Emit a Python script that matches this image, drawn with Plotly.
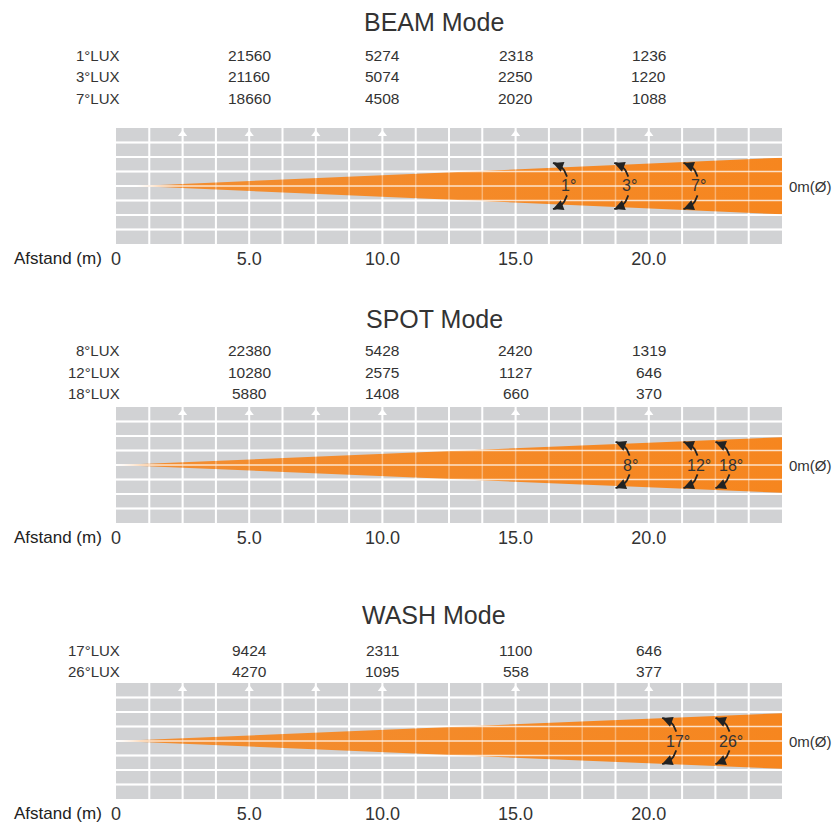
import numpy as np
import plotly.graph_objects as go

# ---------------- data ----------------
panel_titles = ["BEAM Mode", "SPOT Mode", "WASH Mode"]
distances = [5, 10, 15, 20]
tick_vals = [0, 5, 10, 15, 20]
tick_text = ["0", "5.0", "10.0", "15.0", "20.0"]

lux_labels = [
    ["1°LUX", "3°LUX", "7°LUX"],
    ["8°LUX", "12°LUX", "18°LUX"],
    ["17°LUX", "26°LUX"],
]
beam_lux = [[21560, 5274, 2318, 1236], [21160, 5074, 2250, 1220], [18660, 4508, 2020, 1088]]
spot_lux = [[22380, 5428, 2420, 1319], [10280, 2575, 1127, 646], [5880, 1408, 660, 370]]
wash_lux = [[9424, 2311, 1100, 646], [4270, 1095, 558, 377]]
lux_values = [beam_lux, spot_lux, wash_lux]

angle_labels = [["1°", "3°", "7°"], ["8°", "12°", "18°"], ["17°", "26°"]]
angle_x = [[16.4, 18.7, 21.3], [18.75, 21.3, 22.5], [20.5, 22.5]]

beam_start = [0.75, 0.0, 0.0]
beam_half_end = [1.95, 1.92, 1.92]

x_max = 25.0
grid_step_x = 1.25
n_rows = 8
arrow_marks = [2.5, 5, 7.5, 10, 15, 20]

# ---------------- layout constants (reference pixels) ----------------
W, H = 840, 823
title_y = [22, 319, 615]
lux_row_y = [[55, 77, 98], [350, 372, 394], [650, 671]]
gray_top = [128, 407, 683]
gray_bot = [244, 523, 799]
x_left_px, x_right_px = 116, 782

GRAY = "#d1d2d4"
ORANGE = "#f6861f"
TXT = "#333333"
FONT = "Liberation Sans, Arial, sans-serif"


def px(v):
    return v / W


def py(v):
    return 1 - v / H


fig = go.Figure()
annotations = []
layout_axes = {}

vx = np.arange(grid_step_x, x_max, grid_step_x)
hy = np.arange(1, n_rows)
center = n_rows / 2


def vgrid():
    gx, gy = [], []
    for v in vx:
        gx += [v, v, None]
        gy += [0, n_rows, None]
    return gx, gy


def hgrid():
    gx, gy = [], []
    for h in hy:
        gx += [0, x_max, None]
        gy += [h, h, None]
    return gx, gy


for i in range(3):
    sfx = "" if i == 0 else str(i + 1)
    xa, ya = "x" + sfx, "y" + sfx
    layout_axes["xaxis" + sfx] = dict(
        domain=[px(x_left_px), px(x_right_px)], range=[0, x_max], anchor=ya,
        showgrid=False, zeroline=False, showline=False, fixedrange=True, automargin=False,
        tickvals=tick_vals, ticktext=tick_text, ticks="", ticklabelstandoff=2,
        tickfont=dict(size=18, color=TXT, family=FONT),
    )
    layout_axes["yaxis" + sfx] = dict(
        domain=[py(gray_bot[i]), py(gray_top[i])], range=[0, n_rows], anchor=xa,
        visible=False, fixedrange=True, automargin=False,
    )

    vgx, vgy = vgrid()
    hgx, hgy = hgrid()
    for gx, gy in ((vgx, vgy), (hgx, hgy)):
        fig.add_trace(go.Scatter(x=gx, y=gy, xaxis=xa, yaxis=ya, mode="lines",
                                 line=dict(color="white", width=2), hoverinfo="skip", showlegend=False))

    # beam
    h = beam_half_end[i]
    x0 = beam_start[i]
    fig.add_trace(go.Scatter(
        x=[x0, x_max, x_max, x0], y=[center, center + h, center - h, center],
        xaxis=xa, yaxis=ya, mode="lines", fill="toself",
        fillgradient=dict(type="horizontal", colorscale=[
            [0, "rgba(246,134,31,0.25)"], [0.06, "rgba(246,134,31,0.9)"], [1, ORANGE]]),
        line=dict(width=0), hoverinfo="skip", showlegend=False))

    # grid showing through the beam
    fig.add_trace(go.Scatter(x=vgx, y=vgy, xaxis=xa, yaxis=ya, mode="lines", opacity=0.35,
                             line=dict(color="white", width=1.5), hoverinfo="skip", showlegend=False))
    fig.add_trace(go.Scatter(x=hgx, y=hgy, xaxis=xa, yaxis=ya, mode="lines", opacity=0.75,
                             line=dict(color="white", width=1.5), hoverinfo="skip", showlegend=False))

    # white arrowheads on measurement lines
    fig.add_trace(go.Scatter(x=arrow_marks, y=[n_rows - 0.42] * len(arrow_marks), xaxis=xa, yaxis=ya,
                             mode="markers", marker=dict(symbol="triangle-up", size=8, color="white"),
                             hoverinfo="skip", showlegend=False))

    # angle arcs
    a_amp = 1.58
    b_amp = 0.58
    for lbl, ax0 in zip(angle_labels[i], angle_x[i]):
        for sgn in (1, -1):
            t = np.linspace(0.42, np.pi / 2, 20) * sgn
            fig.add_trace(go.Scatter(x=ax0 + b_amp * np.cos(t), y=center + a_amp * np.sin(t),
                                     xaxis=xa, yaxis=ya, mode="lines",
                                     line=dict(color="#222222", width=1.8),
                                     hoverinfo="skip", showlegend=False))
            tt = (np.pi / 2 - 0.5) * sgn
            te = (np.pi / 2) * sgn
            annotations.append(dict(
                x=ax0 + b_amp * np.cos(te), y=center + a_amp * np.sin(te),
                ax=ax0 + b_amp * np.cos(tt), ay=center + a_amp * np.sin(tt),
                xref=xa, yref=ya, axref=xa, ayref=ya, text="", showarrow=True,
                arrowhead=2, arrowsize=1.3, arrowwidth=1.6, arrowcolor="#222222", standoff=0))
        annotations.append(dict(x=ax0 + b_amp, y=center, xref=xa, yref=ya, text=lbl, showarrow=False,
                                font=dict(size=16, color=TXT, family=FONT), xanchor="center", yanchor="middle"))

    # title
    annotations.append(dict(x=px(434), y=py(title_y[i]), xref="paper", yref="paper", text=panel_titles[i],
                            showarrow=False, font=dict(size=25, color=TXT, family=FONT),
                            xanchor="center", yanchor="middle"))
    # lux table
    for r, (lab, vals) in enumerate(zip(lux_labels[i], lux_values[i])):
        annotations.append(dict(x=px(122), y=py(lux_row_y[i][r]), xref="paper", yref="paper", text=lab,
                                showarrow=False, font=dict(size=15, color=TXT, family=FONT),
                                xanchor="right", yanchor="middle"))
        for d, v in zip(distances, vals):
            annotations.append(dict(x=d, y=py(lux_row_y[i][r]), xref=xa, yref="paper", text=str(v),
                                    showarrow=False, font=dict(size=15.5, color=TXT, family=FONT),
                                    xanchor="center", yanchor="middle"))
    # axis caption
    annotations.append(dict(x=px(12), y=py(gray_bot[i] + 14), xref="paper", yref="paper", text="Afstand (m)",
                            showarrow=False, font=dict(size=17, color="#222222", family=FONT),
                            xanchor="left", yanchor="middle"))
    # diameter label
    annotations.append(dict(x=px(787), y=py((gray_top[i] + gray_bot[i]) / 2), xref="paper", yref="paper",
                            text="0m(Ø)", showarrow=False, font=dict(size=15, color=TXT, family=FONT),
                            xanchor="left", yanchor="middle"))

fig.update_layout(
    width=W, height=H, margin=dict(l=0, r=0, t=0, b=0),
    paper_bgcolor="white", plot_bgcolor=GRAY, showlegend=False,
    annotations=annotations, **layout_axes,
)

fig.write_html(
    "out.html",
    config={"displayModeBar": False, "staticPlot": True},
    post_script="document.documentElement.style.margin='0';document.body.style.margin='0';"
                "document.documentElement.style.overflow='hidden';document.body.style.overflow='hidden';",
)
